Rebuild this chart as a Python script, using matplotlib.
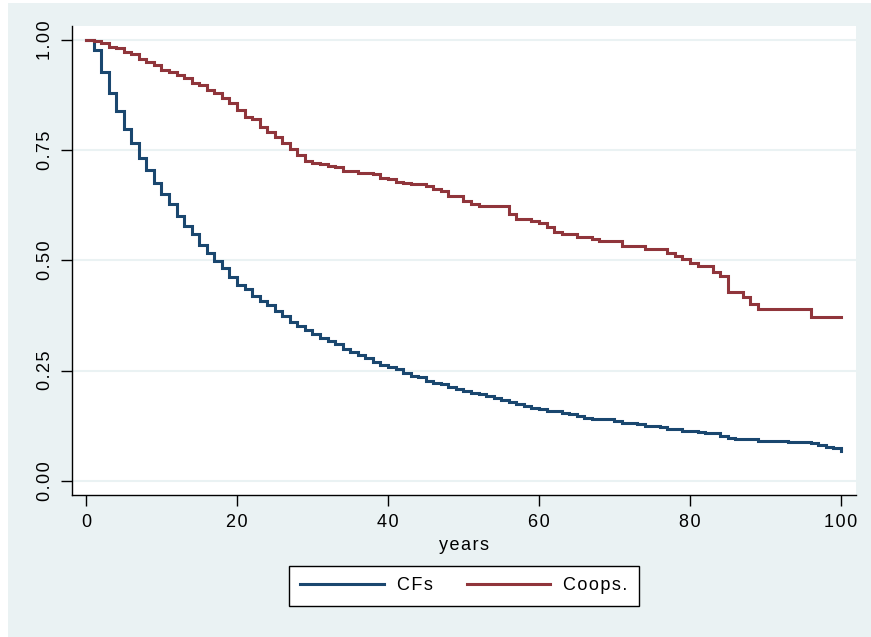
import matplotlib
matplotlib.use("Agg")
import matplotlib.pyplot as plt
from matplotlib.patches import Rectangle

# ---- data (Kaplan-Meier survival estimates) ----
cf_years = [0, 1, 2, 3, 4, 5, 6, 7, 8, 9, 10, 11, 12, 13, 14, 15, 16, 17, 18, 19, 20,
            21, 22, 23, 24, 25, 26, 27, 28, 29, 30, 31, 32, 33, 34, 35, 36, 37, 38, 39,
            40, 41, 42, 43, 44, 45, 46, 47, 48, 49, 50, 51, 52, 53, 54, 55, 56, 57, 58,
            59, 60, 61, 63, 64, 65, 66, 67, 70, 71, 73, 74, 76, 77, 79, 81, 82, 84, 85,
            86, 89, 93, 96, 97, 98, 99, 100]
cf_surv = [1.0, 0.977, 0.928, 0.880, 0.839, 0.797, 0.766, 0.733, 0.705, 0.675, 0.650,
           0.628, 0.601, 0.578, 0.559, 0.536, 0.517, 0.499, 0.482, 0.463, 0.444,
           0.435, 0.420, 0.408, 0.399, 0.385, 0.374, 0.361, 0.351, 0.343, 0.332,
           0.323, 0.317, 0.310, 0.298, 0.291, 0.285, 0.278, 0.270, 0.263,
           0.259, 0.253, 0.244, 0.238, 0.235, 0.226, 0.221, 0.219, 0.213, 0.207,
           0.204, 0.200, 0.197, 0.193, 0.188, 0.183, 0.178, 0.174, 0.170,
           0.166, 0.163, 0.158, 0.154, 0.151, 0.147, 0.142, 0.140, 0.135, 0.132,
           0.129, 0.125, 0.121, 0.117, 0.113, 0.110, 0.108, 0.102, 0.098,
           0.095, 0.091, 0.088, 0.085, 0.081, 0.077, 0.074, 0.068]

coop_years = [0, 1, 2, 3, 4, 5, 6, 7, 8, 9, 10, 11, 12, 13, 14, 15, 16, 17, 18, 19, 20,
              21, 22, 23, 24, 25, 26, 27, 28, 29, 30, 31, 32, 33, 34, 36, 38, 39, 40,
              41, 42, 43, 45, 46, 47, 48, 50, 51, 52, 56, 57, 59, 60, 61, 62, 63, 65,
              67, 68, 71, 74, 77, 78, 79, 80, 81, 83, 84, 85, 87, 88, 89, 96, 100]
coop_surv = [1.0, 0.998, 0.994, 0.985, 0.981, 0.973, 0.968, 0.958, 0.951, 0.943, 0.932,
             0.928, 0.921, 0.913, 0.902, 0.898, 0.887, 0.879, 0.868, 0.856, 0.841,
             0.825, 0.820, 0.803, 0.792, 0.779, 0.767, 0.752, 0.739, 0.726, 0.722,
             0.718, 0.714, 0.711, 0.703, 0.699, 0.695, 0.688, 0.684,
             0.678, 0.676, 0.673, 0.669, 0.662, 0.657, 0.647, 0.635, 0.629, 0.623,
             0.605, 0.593, 0.590, 0.585, 0.575, 0.565, 0.560, 0.552,
             0.548, 0.545, 0.533, 0.525, 0.517, 0.511, 0.502, 0.495, 0.488, 0.473,
             0.465, 0.429, 0.416, 0.401, 0.389, 0.371, 0.371]

x_ticks = [0, 20, 40, 60, 80, 100]
y_ticks = [0.0, 0.25, 0.5, 0.75, 1.0]
y_ticklabels = ["0.00", "0.25", "0.50", "0.75", "1.00"]
series_labels = ["CFs", "Coops."]
x_title = "years"

# ---- style ----
plt.rcParams['font.family'] = ['Liberation Sans', 'DejaVu Sans']
BG = "#EAF2F3"
BLUE = "#1a476f"
RED = "#90353b"
W, H = 871, 637


def spaced(s):
    # Stata-like letter spacing using hair spaces
    return "\u200a".join(s)


fig = plt.figure(figsize=(W / 100, H / 100), dpi=100, facecolor="white")
fig.patches.append(Rectangle((8 / W, 0), 1 - 8 / W, 1 - 3 / H, transform=fig.transFigure,
                             facecolor=BG, edgecolor="none", zorder=-10))

ax = fig.add_axes([72 / W, 1 - 495 / H, (856 - 72) / W, (495 - 26) / H])
ax.set_facecolor("white")

ax.step(cf_years, cf_surv, where="post", color=BLUE, lw=2.2,
        label=spaced(series_labels[0]), solid_joinstyle="miter")
ax.step(coop_years, coop_surv, where="post", color=RED, lw=2.2,
        label=spaced(series_labels[1]), solid_joinstyle="miter")

ax.set_xlim(-1.85, 101.99)
ax.set_ylim(-0.0324, 1.0318)

ax.set_xticks(x_ticks)
ax.set_xticklabels([spaced(str(t)) for t in x_ticks])
ax.set_yticks(y_ticks)
ax.set_yticklabels([spaced(t) for t in y_ticklabels], rotation=90, va="center")
ax.tick_params(axis="both", length=8, width=1.0, color="black", labelsize=13,
               labelcolor="black")
ax.tick_params(axis="y", pad=5)
ax.tick_params(axis="x", pad=6)

ax.grid(axis="y", color=BG, lw=1.5)
ax.set_axisbelow(True)

for s in ["top", "right"]:
    ax.spines[s].set_visible(False)
for s in ["left", "bottom"]:
    ax.spines[s].set_color("black")
    ax.spines[s].set_linewidth(1.0)

ax.set_xlabel(spaced(x_title), fontsize=13, labelpad=4)

leg = fig.legend(loc="center", bbox_to_anchor=(464 / W, 1 - 586 / H), ncol=2,
                 fontsize=13, frameon=True, fancybox=False, framealpha=1,
                 edgecolor="black", facecolor="white", handlelength=4.65,
                 handletextpad=0.72, columnspacing=1.85, borderpad=0.62,
                 borderaxespad=0)
leg.get_frame().set_linewidth(1.0)

fig.savefig("out.png", dpi=100, facecolor=fig.get_facecolor())
